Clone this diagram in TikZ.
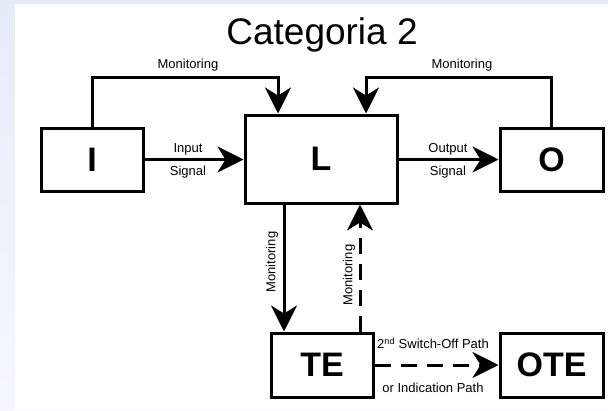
\documentclass[tikz,border=0pt]{standalone}
\usepackage{fontspec}
\setmainfont{Liberation Sans}
\usetikzlibrary{arrows.meta}
\definecolor{ink}{HTML}{000000}
\definecolor{slide}{HTML}{E6ECF7}
\definecolor{slidelow}{HTML}{F4F8FE}
\newcommand{\boxfontsize}{\fontsize{34}{38}\selectfont\bfseries}
\newcommand{\tagfontsize}{\fontsize{13}{15}\selectfont}
\tikzset{
  every picture/.style = {line join=miter},
  block/.style  = {draw=ink, line width=3pt, font=\boxfontsize, inner sep=0pt},
  tag/.style    = {text=ink, font=\tagfontsize, inner sep=0pt},
  sig/.style    = {draw=ink, line width=3pt,
                   -{Stealth[length=26pt, width=26pt, inset=8pt]}},
  dsig/.style   = {sig, dash pattern=on 16pt off 10pt},
}

\begin{document}
\begin{tikzpicture}[x=1pt, y=-1pt]
  % slide background: pale blue frame, white sheet
  \shade[top color=slide, bottom color=slidelow] (0,0) rectangle (608,410);
  \fill[white] (15,4) rectangle (608,410);
  \useasboundingbox (0,0) rectangle (608,410);

  \node[text=ink, font=\fontsize{37}{42}\selectfont, anchor=base] (title) at (322,44) {Categoria 2};

  % --- blocks ---------------------------------------------------------------
  \node[block, minimum width=102, minimum height=63] (I)   at (92,159.5)    {I};
  \node[block, minimum width=152, minimum height=88] (L)   at (321,159)     {L};
  \node[block, minimum width=103, minimum height=63] (O)   at (551.5,159.5) {O};
  \node[block, minimum width=102, minimum height=64] (TE)  at (322,365)     {TE};
  \node[block, minimum width=103, minimum height=64] (OTE) at (551.5,365)   {OTE};

  % --- monitoring loops over the top ----------------------------------------
  \coordinate (monl) at (278,77);
  \coordinate (monr) at (366,77);
  \draw[sig] (I.north) |- (monl) -- (monl |- L.north);
  \draw[sig] (O.north) |- (monr) -- (monr |- L.north);
  \node[tag] (monltag) at (188,65) {Monitoring};
  \node[tag] (monrtag) at (462,65) {Monitoring};

  % --- signal path ----------------------------------------------------------
  \draw[sig] (I.east) -- (I.east -| L.west);
  \node[tag] (intag)  at (188,149) {Input};
  \node[tag] (insig)  at (188,172) {Signal};
  \draw[sig] (O.west -| L.east) -- (O.west);
  \node[tag] (outtag) at (448,149) {Output};
  \node[tag] (outsig) at (448,172) {Signal};

  % --- test equipment -------------------------------------------------------
  \coordinate (down) at ([xshift=-37pt]L.south);
  \coordinate (up)   at ([xshift=38pt]TE.north);
  \draw[sig]  (down) -- (down |- TE.north);
  \draw[dsig] (up) -- (up |- L.south);
  \node[tag, rotate=90] (dntag) at (272,262) {Monitoring};
  \node[tag, rotate=90] (uptag) at (349,275) {Monitoring};

  \draw[dsig] (TE.east) -- (OTE.west);
  \node[tag] (offtag) at (433,343) {2\textsuperscript{nd} Switch-Off Path};
  \node[tag] (indtag) at (433,388) {or Indication Path};
\end{tikzpicture}
\end{document}
